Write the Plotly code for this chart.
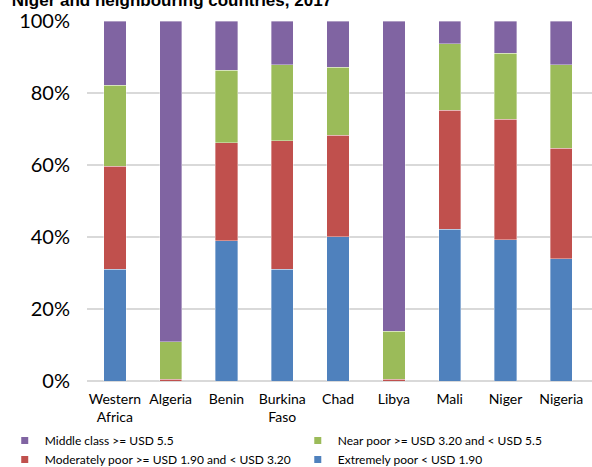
import plotly.graph_objects as go

categories = ["Western<br>Africa", "Algeria", "Benin", "Burkina<br>Faso", "Chad", "Libya", "Mali", "Niger", "Nigeria"]
extremely_poor = [31.0, 0.0, 38.9, 31.0, 40.1, 0.0, 42.2, 39.2, 33.9]
moderately_poor = [28.6, 0.5, 27.3, 35.8, 28.1, 0.5, 33.0, 33.5, 30.7]
near_poor = [22.5, 10.4, 20.1, 21.0, 19.0, 13.3, 18.5, 18.3, 23.3]
middle_class = [17.9, 89.1, 13.7, 12.2, 12.8, 86.2, 6.3, 9.0, 12.1]
y_ticks = [0, 20, 40, 60, 80, 100]
y_labels = ["0%", "20%", "40%", "60%", "80%", "100%"]

series = [
    ("Extremely poor < USD 1.90", extremely_poor, "#4F81BD", "legend2"),
    ("Moderately poor >= USD 1.90 and < USD 3.20", moderately_poor, "#C0504D", "legend"),
    ("Near poor >= USD 3.20 and < USD 5.5", near_poor, "#9BBB59", "legend2"),
    ("Middle class >= USD 5.5", middle_class, "#8064A2", "legend"),
]

fig = go.Figure()
for name, vals, col, lg in series:
    fig.add_trace(go.Bar(x=categories, y=vals, name=name, showlegend=False,
                         marker=dict(color=col, line=dict(width=0.6, color="rgba(255,255,255,0.6)"))))
# legend entries with small square keys
for name, vals, col, lg in series:
    fig.add_trace(go.Scatter(x=[None], y=[None], mode="markers", name=name, legend=lg,
                             marker=dict(symbol="square", size=7, color=col)))

font = "Lato, 'Open Sans', sans-serif"
leg_common = dict(orientation="v", traceorder="reversed", xanchor="left", xref="container",
                  y=0.088, yanchor="top", yref="container",
                  font=dict(size=12, family=font), itemwidth=30, tracegroupgap=0,
                  bgcolor="rgba(0,0,0,0)")
fig.update_layout(
    barmode="stack",
    bargap=0.6,
    width=592, height=467,
    margin=dict(l=87, r=0, t=21, b=86, autoexpand=False),
    plot_bgcolor="white", paper_bgcolor="white",
    font=dict(family=font, color="#000000"),
    title=dict(text="<b>Niger and neighbouring countries, 2017</b>", x=0.02, xanchor="left",
               y=1.0, yanchor="middle", yref="container",
               font=dict(family="Liberation Sans, Arial, sans-serif", size=17, color="#000000")),
    showlegend=True,
    legend=dict(x=0.008, **leg_common),
    legend2=dict(x=0.503, **leg_common),
    xaxis=dict(range=[-0.5, 8.55], tickfont=dict(size=14, family=font), showgrid=False,
               showline=False, ticks="", ticklabelstandoff=8),
    yaxis=dict(range=[0, 100], tickvals=y_ticks, ticktext=y_labels,
               tickfont=dict(size=20, family=font), showgrid=True, gridcolor="#D9D9D9",
               gridwidth=1.5, zeroline=True, zerolinecolor="#D9D9D9", zerolinewidth=1.5,
               ticks="", ticklen=0, showline=False, ticklabelstandoff=16),
)

fig.write_html("out.html")
